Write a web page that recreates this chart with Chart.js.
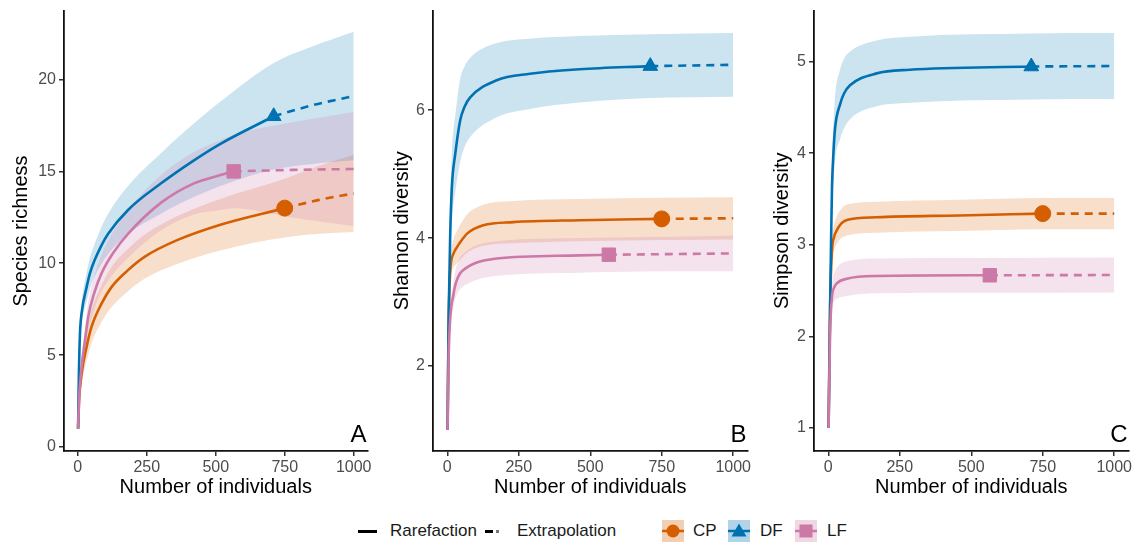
<!DOCTYPE html>
<html>
<head>
<meta charset="utf-8">
<script src="https://cdn.jsdelivr.net/npm/chart.js@4.4.1/dist/chart.umd.min.js"></script>
<style>
  html, body { margin: 0; padding: 0; background: #fff; }
  body { width: 1139px; height: 544px; position: relative; overflow: hidden;
         font-family: 'Liberation Sans', Arial, sans-serif; }
  canvas { position: absolute; top: 0; }
  .lg { position: absolute; top: 520px; height: 22px; line-height: 22px; font-size: 17px; color: #1a1a1a; white-space: nowrap; }
  .bar { position: absolute; background: #000; }
</style>
</head>
<body>
<canvas id="panelA" width="378" height="500" style="left:0px"></canvas>
<canvas id="panelB" width="380" height="500" style="left:378px"></canvas>
<canvas id="panelC" width="381" height="500" style="left:758px"></canvas>

<!-- legend -->
<div class="bar" style="left:358px; top:530px; width:19px; height:3px"></div>
<div class="lg" style="left:390px">Rarefaction</div>
<div class="bar" style="left:485px; top:530px; width:8px; height:3px"></div>
<div class="bar" style="left:496px; top:530px; width:3px; height:3px; background:#777"></div>
<div class="lg" style="left:517px">Extrapolation</div>
<svg class="lg" style="left:662px; top:520px" width="22" height="22">
  <rect width="22" height="22" fill="rgba(213,94,0,0.3)"/>
  <line x1="0" y1="11" x2="22" y2="11" stroke="#D55E00" stroke-width="2.5"/>
  <circle cx="11" cy="11" r="6.5" fill="#D55E00"/>
</svg>
<div class="lg" style="left:693px">CP</div>
<svg class="lg" style="left:728px; top:520px" width="22" height="22">
  <rect width="22" height="22" fill="rgba(0,114,178,0.3)"/>
  <line x1="0" y1="11" x2="22" y2="11" stroke="#0072B2" stroke-width="2.5"/>
  <polygon points="11,3.5 18.5,16.5 3.5,16.5" fill="#0072B2"/>
</svg>
<div class="lg" style="left:760px">DF</div>
<svg class="lg" style="left:795px; top:520px" width="22" height="22">
  <rect width="22" height="22" fill="rgba(204,121,167,0.3)"/>
  <line x1="0" y1="11" x2="22" y2="11" stroke="#CC79A7" stroke-width="2.5"/>
  <rect x="4.5" y="4.5" width="13" height="13" fill="#CC79A7"/>
</svg>
<div class="lg" style="left:827px">LF</div>

<script>
// Sites and their observed sample sizes (where solid turns into dashed)
const sites = ['CP', 'DF', 'LF'];
const observedN = [750, 710, 565];
const xTicks = [0, 250, 500, 750, 1000];
const richTicks = [0, 5, 10, 15, 20];
const shannonTicks = [2, 4, 6];
const simpsonTicks = [1, 2, 3, 4, 5];

// Panel A - species richness (n, estimate, half width of the 95% band)
const richCPn = [1, 5, 14, 32, 50, 86, 122, 180, 242, 362, 517, 750, 875, 1000];
const richCPy = [1, 2.6, 4.0, 5.46, 6.55, 7.8, 8.7, 9.6, 10.35, 11.27, 12.1, 13.0, 13.45, 13.8];
const richCPw = [0, 0.3, 0.6, 0.8, 0.9, 1.0, 1.1, 1.15, 1.2, 1.3, 1.4, 1.6, 1.85, 2.1];
const richDFn = [1, 4, 8, 14, 32, 45, 62, 85, 110, 182, 302, 421, 517, 710, 850, 1000];
const richDFy = [1, 4.0, 6.2, 7.3, 8.7, 9.5, 10.2, 10.95, 11.6, 12.9, 14.35, 15.6, 16.5, 18.0, 18.6, 19.1];
const richDFw = [0, 0.3, 0.5, 0.6, 0.8, 0.85, 0.9, 1.0, 1.1, 1.3, 1.65, 2.0, 2.3, 2.9, 3.2, 3.5];
const richLFn = [1, 5, 14, 26, 38, 60, 86, 130, 182, 302, 421, 517, 565, 780, 1000];
const richLFy = [1, 2.7, 4.4, 5.8, 7.1, 8.4, 9.45, 10.6, 11.6, 13.3, 14.35, 14.8, 15.0, 15.08, 15.13];
const richLFw = [0, 0.3, 0.5, 0.65, 0.8, 0.9, 1.0, 1.15, 1.3, 1.5, 1.7, 1.9, 2.0, 2.6, 3.1];

// Panel B - Shannon diversity
const shanCPn = [1, 4, 10, 22, 34, 51, 69, 126, 231, 463, 750, 1000];
const shanCPy = [1, 2.5, 3.45, 3.76, 3.86, 3.97, 4.07, 4.2, 4.25, 4.28, 4.3, 4.31];
const shanCPw = [0, 0.1, 0.15, 0.22, 0.25, 0.28, 0.3, 0.32, 0.33, 0.33, 0.33, 0.33];
const shanDFn = [1, 5, 10, 16, 28, 45, 60, 80, 173, 289, 463, 710, 1000];
const shanDFy = [1, 2.82, 4.02, 4.8, 5.32, 5.84, 6.05, 6.2, 6.47, 6.57, 6.64, 6.69, 6.71];
const shanDFw = [0, 0.3, 0.45, 0.55, 0.6, 0.65, 0.63, 0.62, 0.58, 0.55, 0.52, 0.5, 0.5];
const shanLFn = [1, 5, 22, 30, 45, 65, 92, 173, 463, 565, 780, 1000];
const shanLFy = [1, 2.2, 3.13, 3.3, 3.45, 3.53, 3.6, 3.68, 3.73, 3.74, 3.75, 3.76];
const shanLFw = [0, 0.1, 0.2, 0.22, 0.25, 0.26, 0.27, 0.27, 0.27, 0.27, 0.27, 0.28];

// Panel C - Simpson diversity
const simpCPn = [1, 6, 13, 20, 30, 45, 65, 169, 458, 750, 1000];
const simpCPy = [1, 2.3, 2.94, 3.08, 3.16, 3.23, 3.27, 3.30, 3.32, 3.34, 3.34];
const simpCPw = [0, 0.08, 0.12, 0.14, 0.15, 0.16, 0.17, 0.17, 0.17, 0.17, 0.17];
const simpDFn = [1, 7, 10, 13, 18, 24, 42, 55, 76, 169, 285, 710, 1000];
const simpDFy = [1, 2.43, 3.1, 3.63, 4.0, 4.28, 4.54, 4.65, 4.74, 4.87, 4.91, 4.945, 4.95];
const simpDFw = [0, 0.15, 0.22, 0.3, 0.33, 0.35, 0.38, 0.38, 0.37, 0.36, 0.36, 0.36, 0.36];
const simpLFn = [1, 6, 13, 20, 30, 65, 169, 565, 1000];
const simpLFy = [1, 2.0, 2.43, 2.53, 2.58, 2.63, 2.66, 2.667, 2.67];
const simpLFw = [0, 0.08, 0.12, 0.15, 0.17, 0.19, 0.19, 0.19, 0.19];

const colors = ['#D55E00', '#0072B2', '#CC79A7'];
const bands = ['rgba(213,94,0,0.2)', 'rgba(0,114,178,0.2)', 'rgba(204,121,167,0.22)'];
const shapes = ['circle', 'triangle', 'rect'];
const shapeSize = [8, 8.5, 9.5];

Chart.defaults.font.family = "'Liberation Sans', Arial, sans-serif";

// letter in the bottom right corner of each panel
const panelLetter = {
    id: 'panelLetter',
    afterDraw(chart, args, opts) {
        const {ctx, chartArea} = chart;
        ctx.save();
        ctx.font = "24px 'Liberation Sans', Arial, sans-serif";
        ctx.fillStyle = '#000';
        ctx.textAlign = 'right';
        ctx.textBaseline = 'alphabetic';
        ctx.fillText(opts.text, chartArea.right - 1, chartArea.bottom - 9);
        ctx.restore();
    }
};

function pts(ns, vals) {
    return ns.map((n, i) => ({x: n, y: vals[i]}));
}

// ribbons, solid + dashed lines and the observed marker for each site
function buildDatasets(series) {
    const out = [];
    // LF first so it is drawn on top, like the original
    [2, 1, 0].forEach(k => {
        const [ns, ys, ws] = series[k];
        const obs = observedN[k];
        const common = {
            pointRadius: 0, cubicInterpolationMode: 'monotone', clip: false
        };
        out.push({ ...common, label: sites[k] + ' upper', data: pts(ns, ys.map((v, i) => v + ws[i])),
            borderWidth: 0, fill: '+1', backgroundColor: bands[k], order: 3 });
        out.push({ ...common, label: sites[k] + ' lower', data: pts(ns, ys.map((v, i) => v - ws[i])),
            borderWidth: 0, fill: false, order: 3 });
        const rare = ns.map((n, i) => i).filter(i => ns[i] <= obs);
        const extra = ns.map((n, i) => i).filter(i => ns[i] >= obs);
        out.push({ ...common, label: sites[k] + ' rarefaction',
            data: rare.map(i => ({x: ns[i], y: ys[i]})),
            borderColor: colors[k], borderWidth: 2.6, fill: false, order: 2 });
        out.push({ ...common, label: sites[k] + ' extrapolation',
            data: extra.map(i => ({x: ns[i], y: ys[i]})),
            borderColor: colors[k], borderWidth: 2.6, borderDash: [8, 6], fill: false, order: 2 });
        const oi = ns.indexOf(obs);
        out.push({ label: sites[k], data: [{x: obs, y: ys[oi]}], showLine: false,
            pointStyle: shapes[k], pointRadius: shapeSize[k], pointBackgroundColor: colors[k],
            pointBorderColor: colors[k], pointBorderWidth: 1, order: 1, clip: false });
    });
    return out;
}

function makeChart(id, cfg) {
    return new Chart(document.getElementById(id), {
        type: 'line',
        data: { datasets: buildDatasets(cfg.series) },
        options: {
            responsive: false,
            animation: false,
            events: [],
            layout: { padding: cfg.padding },
            plugins: {
                legend: { display: false },
                tooltip: { enabled: false },
                panelLetter: { text: cfg.letter }
            },
            scales: {
                x: {
                    type: 'linear', min: -50, max: 1050,
                    afterBuildTicks: s => { s.ticks = xTicks.map(v => ({value: v})); },
                    afterFit: s => { s.height = 49; s.paddingLeft = 0; s.paddingRight = 0; },
                    border: { display: true, color: '#111', width: 1.8 },
                    grid: { display: true, drawOnChartArea: false, drawTicks: true, tickLength: 5,
                            color: '#333', lineWidth: 1.5 },
                    ticks: { color: '#4d4d4d', font: { size: 16 }, padding: 2, maxRotation: 0,
                             callback: v => String(v) },
                    title: { display: true, text: 'Number of individuals', color: '#000',
                             font: { size: 20 }, padding: { top: 0, bottom: 1 } }
                },
                y: {
                    type: 'linear', min: cfg.yMin, max: cfg.yMax,
                    afterBuildTicks: s => { s.ticks = cfg.yTicks.map(v => ({value: v})); },
                    afterFit: s => { s.width = cfg.yWidth; s.paddingTop = 0; s.paddingBottom = 0; },
                    border: { display: true, color: '#111', width: 1.8 },
                    grid: { display: true, drawOnChartArea: false, drawTicks: true, tickLength: 5,
                            color: '#333', lineWidth: 1.5 },
                    ticks: { color: '#4d4d4d', font: { size: 16 }, padding: 3,
                             callback: v => String(v) },
                    title: { display: true, text: cfg.yTitle, color: '#000',
                             font: { size: 20 }, padding: { top: cfg.titlePad, bottom: 0 } }
                }
            }
        },
        plugins: [panelLetter]
    });
}

makeChart('panelA', {
    series: [[richCPn, richCPy, richCPw], [richDFn, richDFy, richDFw], [richLFn, richLFy, richLFw]],
    yTicks: richTicks, yMin: -0.22, yMax: 23.73, yTitle: 'Species richness',
    yWidth: 64, titlePad: 9, padding: { top: 11, right: 10, left: 0, bottom: 0 }, letter: 'A'
});
makeChart('panelB', {
    series: [[shanCPn, shanCPy, shanCPw], [shanDFn, shanDFy, shanDFw], [shanLFn, shanLFy, shanLFw]],
    yTicks: shannonTicks, yMin: 0.67, yMax: 7.56, yTitle: 'Shannon diversity',
    yWidth: 55, titlePad: 12, padding: { top: 10, right: 10, left: 0, bottom: 0 }, letter: 'B'
});
makeChart('panelC', {
    series: [[simpCPn, simpCPy, simpCPw], [simpDFn, simpDFy, simpDFw], [simpLFn, simpLFy, simpLFw]],
    yTicks: simpsonTicks, yMin: 0.75, yMax: 5.556, yTitle: 'Simpson diversity',
    yWidth: 56, titlePad: 12, padding: { top: 10, right: 9, left: 0, bottom: 0 }, letter: 'C'
});
</script>
</body>
</html>
